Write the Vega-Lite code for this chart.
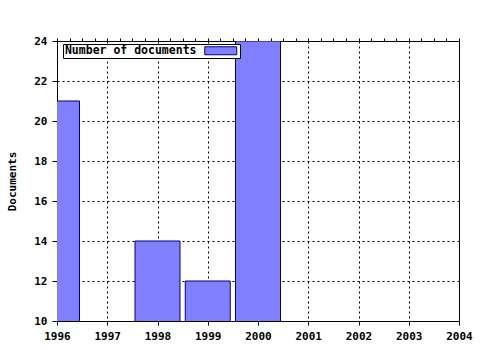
{
  "$schema": "https://vega.github.io/schema/vega-lite/v6.json",
  "autosize": "none",
  "width": 402,
  "height": 280,
  "padding": {"left": 57, "top": 41, "right": 21, "bottom": 29},
  "background": "white",
  "data": {"values": [
    {"year": 1996, "documents": 21},
    {"year": 1998, "documents": 14},
    {"year": 1999, "documents": 12},
    {"year": 2000, "documents": 24}
  ]},
  "layer": [
    {
      "mark": {"type": "bar", "width": 45, "clip": true, "fill": "#8080ff", "stroke": "#000080", "strokeWidth": 1},
      "encoding": {
        "x": {"field": "year", "type": "quantitative",
          "scale": {"domain": [1996, 2004], "nice": false, "zero": false, "padding": 0},
          "axis": {"orient": "bottom", "title": null, "format": "d",
            "values": [1996,1996.25,1996.5,1996.75,1997,1997.25,1997.5,1997.75,1998,1998.25,1998.5,1998.75,1999,1999.25,1999.5,1999.75,2000,2000.25,2000.5,2000.75,2001,2001.25,2001.5,2001.75,2002,2002.25,2002.5,2002.75,2003,2003.25,2003.5,2003.75,2004],
            "labelExpr": "datum.value % 1 === 0 ? datum.label : ''",
            "labelFlush": false, "labelOverlap": false,
            "grid": true,
            "gridOpacity": {"condition": {"test": "datum.value % 1 === 0", "value": 1}, "value": 0},
            "tickSize": 4, "labelPadding": 5}},
        "y": {"field": "documents", "type": "quantitative",
          "scale": {"domain": [10, 24], "nice": false, "zero": false},
          "axis": {"title": "Documents", "values": [10,12,14,16,18,20,22,24], "labelOverlap": false, "grid": true, "tickSize": 5, "labelPadding": 5, "titlePadding": 16}},
        "color": {"datum": "Number of documents", "type": "nominal",
          "scale": {"range": ["#8080ff"]},
          "legend": {"title": null}}
      }
    },
    {
      "mark": {"type": "rule", "opacity": 0},
      "encoding": {
        "x": {"field": "year", "type": "quantitative",
          "axis": {"orient": "top", "title": null, "labels": false, "domain": false, "grid": false, "tickSize": 3,
            "values": [1996,1996.25,1996.5,1996.75,1997,1997.25,1997.5,1997.75,1998,1998.25,1998.5,1998.75,1999,1999.25,1999.5,1999.75,2000,2000.25,2000.5,2000.75,2001,2001.25,2001.5,2001.75,2002,2002.25,2002.5,2002.75,2003,2003.25,2003.5,2003.75,2004]}}
      }
    }
  ],
  "resolve": {"axis": {"x": "independent"}},
  "config": {
    "font": "DejaVu Sans Mono",
    "view": {"stroke": "black", "strokeWidth": 1},
    "axis": {
      "labelFont": "DejaVu Sans Mono", "labelFontWeight": "bold", "labelFontSize": 11, "labelColor": "black",
      "titleFont": "DejaVu Sans Mono", "titleFontWeight": "bold", "titleFontSize": 11, "titleColor": "black",
      "domainColor": "black", "tickColor": "black", "gridColor": "black", "gridDash": [2, 3], "gridWidth": 1
    },
    "legend": {
      "orient": "none", "legendX": 6, "legendY": 3,
      "strokeColor": "black", "fillColor": "white", "padding": 1,
      "symbolType": "M-4,-1H4V1H-4Z", "symbolSize": 64,
      "symbolStrokeColor": "#000080", "symbolStrokeWidth": 1, "symbolFillColor": "#8080ff",
      "symbolOffset": 151, "labelOffset": -30, "labelAlign": "right",
      "labelFont": "DejaVu Sans Mono", "labelFontWeight": "bold", "labelFontSize": 11.5, "labelColor": "black"
    }
  }
}
